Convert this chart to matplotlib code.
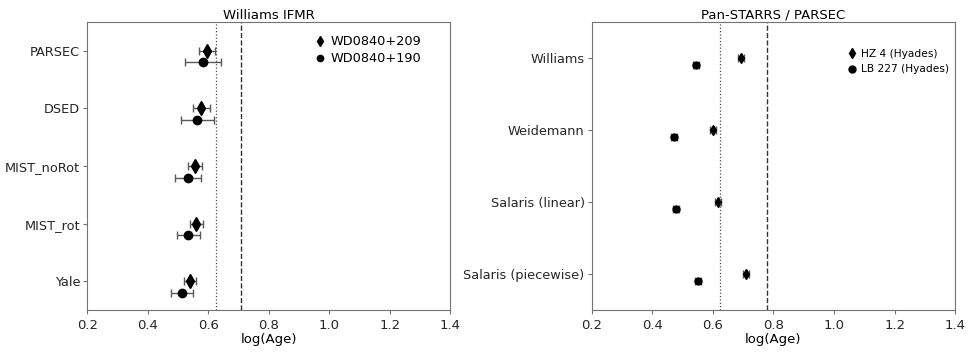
import numpy as np
import matplotlib
matplotlib.use('Agg')
import matplotlib.pyplot as plt

# Left panel: Williams IFMR, ages per isochrone set
models = ['PARSEC', 'DSED', 'MIST_noRot', 'MIST_rot', 'Yale']
wd209_age = [0.595, 0.577, 0.555, 0.560, 0.539]
wd209_err = [0.027, 0.028, 0.023, 0.022, 0.020]
wd190_age = [0.583, 0.564, 0.533, 0.534, 0.514]
wd190_err = [0.060, 0.055, 0.044, 0.039, 0.037]
left_dotted = 0.625
left_dashed = 0.708

# Right panel: Pan-STARRS / PARSEC, ages per IFMR
ifmrs = ['Williams', 'Weidemann', 'Salaris (linear)', 'Salaris (piecewise)']
hz4_age = [0.692, 0.601, 0.618, 0.709]
hz4_err = [0.010, 0.010, 0.010, 0.010]
lb227_age = [0.544, 0.472, 0.477, 0.552]
lb227_err = [0.010, 0.010, 0.010, 0.010]
right_dotted = 0.625
right_dashed = 0.778

plt.rcParams['font.family'] = ['DejaVu Sans']
plt.rcParams['font.size'] = 9.5

fig = plt.figure(figsize=(9.69, 3.53), dpi=100)
ax1 = fig.add_axes([0.0901, 0.1218, 0.3746, 0.816])
ax2 = fig.add_axes([0.6106, 0.1218, 0.3752, 0.816])

ecol = '0.35'


def panel(ax, labels, a_val, a_err, b_val, b_err, offset, ms_d, ms_o, lab_a, lab_b,
          dotted, dashed, title):
    y = np.arange(len(labels))
    ax.errorbar(a_val, y, xerr=a_err, fmt='none', ecolor=ecol, capsize=3, elinewidth=1)
    ax.errorbar(b_val, y + offset, xerr=b_err, fmt='none', ecolor=ecol, capsize=3, elinewidth=1)
    ax.plot(a_val, y, 'd', color='k', ms=ms_d, ls='none', label=lab_a)
    ax.plot(b_val, y + offset, 'o', color='k', ms=ms_o, ls='none', label=lab_b)
    ax.axvline(dotted, color='0.3', ls=':', lw=0.9)
    ax.axvline(dashed, color='0.2', ls='--', lw=1)
    ax.set_yticks(y)
    ax.set_yticklabels(labels)
    ax.set_ylim(len(labels) - 0.5, -0.5)
    ax.set_xlim(0.2, 1.4)
    ax.set_xticks([0.2, 0.4, 0.6, 0.8, 1.0, 1.2, 1.4])
    ax.set_xlabel('log(Age)', labelpad=1)
    ax.set_title(title, fontsize=9.5, pad=1.5)
    for s in ax.spines.values():
        s.set_color('0.45')
    ax.tick_params(colors='0.45', labelcolor='0.15', labelsize=9.5, length=3)
    ax.tick_params(axis='y', pad=2, labelsize=9.3)


panel(ax1, models, wd209_age, wd209_err, wd190_age, wd190_err, 0.2, 7, 6,
      'WD0840+209', 'WD0840+190', left_dotted, left_dashed, 'Williams IFMR')
ax1.legend(loc='upper right', bbox_to_anchor=(0.945, 0.985), frameon=False, fontsize=9.3,
           handletextpad=0.2, borderaxespad=0.3, labelspacing=0.3, handlelength=1.2,
           markerscale=0.75)

panel(ax2, ifmrs, hz4_age, hz4_err, lb227_age, lb227_err, 0.1, 5, 5,
      'HZ 4 (Hyades)', 'LB 227 (Hyades)', right_dotted, right_dashed,
      'Pan-STARRS / PARSEC')
ax2.legend(loc='upper right', bbox_to_anchor=(1.0, 0.93), frameon=False, fontsize=7.7,
           handletextpad=0.3, borderaxespad=0.2, labelspacing=0.55, handlelength=1.0)

fig.savefig('out.png', dpi=100)
